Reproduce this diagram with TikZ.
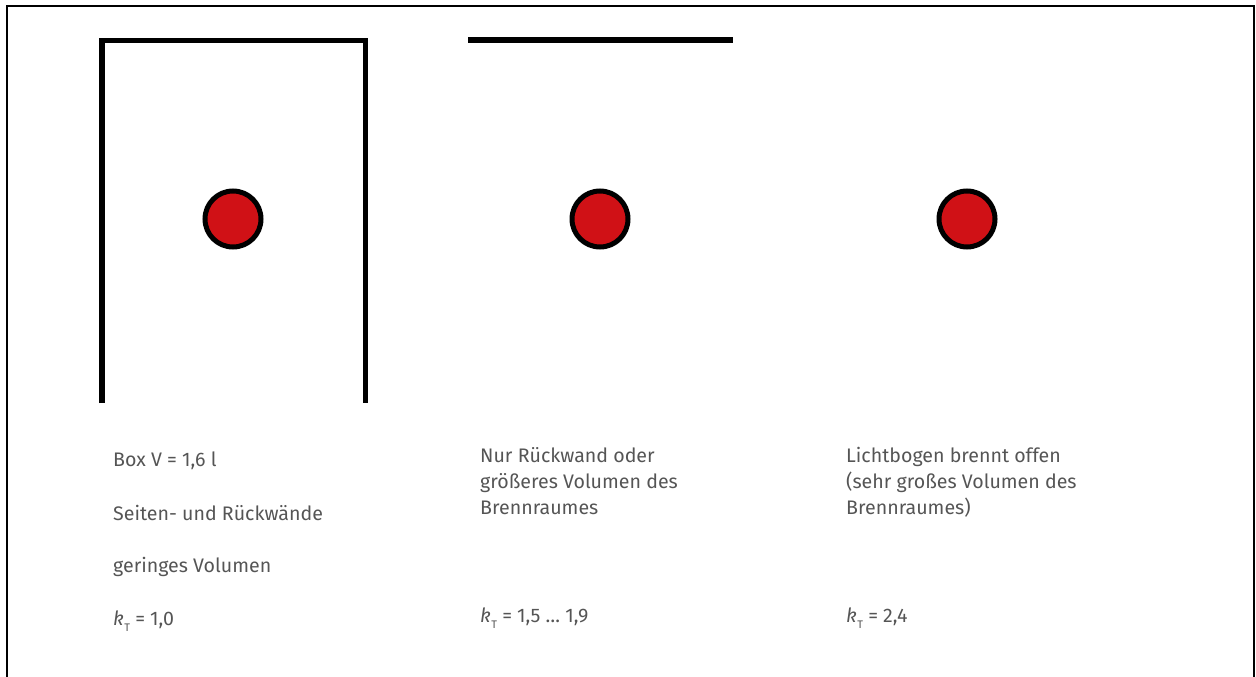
\documentclass[tikz,border=0pt]{standalone}
\usepackage{fontspec}
\setmainfont{Fira Sans}
\begin{document}
\begin{tikzpicture}[x=1pt,y=-1pt,
  wall/.style={line width=5.5pt,line cap=butt,line join=miter},
  frame/.style={line width=1.5pt},
  arc/.style={circle,draw=black,line width=5pt,fill=arcred,minimum size=56pt,inner sep=0pt},
  lbl/.style={anchor=base west,inner sep=0pt,align=left,text=txtgray,
    font=\fontsize{19.6}{26}\selectfont}]
\definecolor{arcred}{HTML}{D01116}
\definecolor{txtgray}{HTML}{555555}
\useasboundingbox (0,0) rectangle (1256,677);
% frame
\draw[frame] (7,677) -- (7,6) -- (1254,6) -- (1254,677);
% walls
\draw[wall] (102,403) -- (102,40.5) -- (365.5,40.5) -- (365.5,403);
\draw[wall] (468,40) -- (733,40);
% arcs
\node[arc] (a1) at (233,219) {};
\node[arc] (a2) at (600,219) {};
\node[arc] (a3) at (967,219) {};
% texts
\newcommand{\kT}{\textit{k}\kern0.5pt\raisebox{-6.5pt}{\fontsize{11}{11}\selectfont T}}
\node[lbl] (t1) at (113,466) {Box V = 1,6 l};
\node[lbl] (t2) at (113,520) {Seiten- und Rückwände};
\node[lbl] (t3) at (113,572) {geringes Volumen};
\node[lbl] (t4) at (113,625) {\kT\ = 1,0};
\node[lbl] (m1) at (480,514) {Nur Rückwand oder\\größeres Volumen des\\Brennraumes};
\node[lbl] (m2) at (480,622) {\kT\ = 1,5 … 1,9};
\node[lbl] (r1) at (846,514) {Lichtbogen brennt offen\\(sehr großes Volumen des\\Brennraumes)};
\node[lbl] (r2) at (846,622) {\kT\ = 2,4};
\end{tikzpicture}
\end{document}
